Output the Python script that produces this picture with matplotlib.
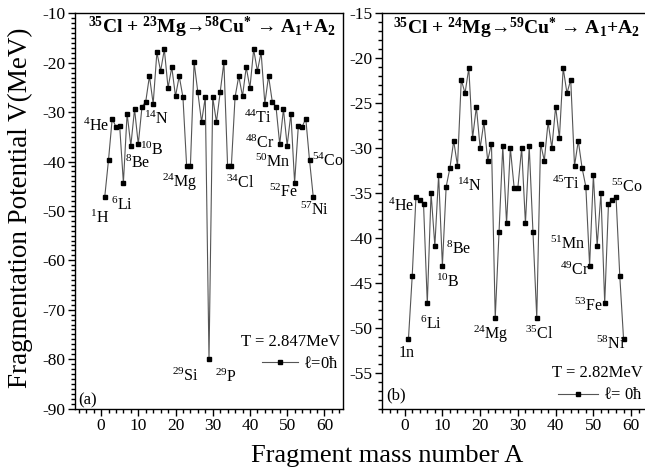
import matplotlib
matplotlib.use("Agg")
import matplotlib.pyplot as plt
from matplotlib.ticker import MultipleLocator
from matplotlib.lines import Line2D

plt.rcParams['font.family'] = ['Liberation Serif', 'DejaVu Serif']
plt.rcParams['mathtext.fontset'] = 'stix'
plt.rcParams['mathtext.default'] = 'regular'
plt.rcParams['axes.unicode_minus'] = False

# ---------------- data ----------------
mass_a = list(range(1, 58))
pot_a = [-47.1, -39.7, -31.3, -33.0, -32.8, -44.3, -30.3, -36.8, -29.4, -36.5,
         -28.9, -27.9, -22.7, -28.3, -17.9, -21.7, -17.3, -25.1, -20.9, -26.8,
         -22.7, -27.0, -41.0, -41.0, -19.9, -26.0, -32.0, -27.0, -80.0, -27.0,
         -32.0, -26.0, -19.9, -41.0, -41.0, -27.0, -22.7, -26.8, -20.9, -25.1,
         -17.3, -21.7, -17.9, -28.3, -22.7, -27.9, -28.9, -36.5, -29.4, -36.8,
         -30.3, -44.3, -32.8, -33.0, -31.3, -39.7, -47.1]

mass_b = list(range(1, 59))
pot_b = [-51.3, -44.3, -35.4, -35.8, -36.2, -47.3, -35.0, -40.9, -33.0, -43.1,
         -34.3, -32.2, -29.2, -32.0, -22.4, -23.9, -21.1, -28.9, -25.4, -30.0,
         -27.1, -31.4, -29.5, -48.9, -39.4, -29.8, -38.4, -30.0, -34.4, -34.4,
         -30.0, -38.4, -29.8, -39.4, -48.9, -29.5, -31.4, -27.1, -30.0, -25.4,
         -28.9, -21.1, -23.9, -22.4, -32.0, -29.2, -32.2, -34.3, -43.1, -33.0,
         -40.9, -35.0, -47.3, -36.2, -35.8, -35.4, -44.3, -51.3]

title_a = r'$^{35}$Cl + $^{23}$Mg→$^{58}$Cu$^{*}$ → A$_{1}$+A$_{2}$'
title_b = r'$^{35}$Cl + $^{24}$Mg→$^{59}$Cu$^{*}$ → A$_{1}$+A$_{2}$'

labels_a = [(r'$^{4}$He', -1.3, -32.9), (r'$^{1}$H', -0.3, -51.5), (r'$^{6}$Li', 5.6, -48.9),
            (r'$^{8}$Be', 9.7, -40.4), (r'$^{10}$B', 13.7, -37.7), (r'$^{14}$N', 14.8, -31.4),
            (r'$^{24}$Mg', 21.2, -44.2), (r'$^{34}$Cl', 37.4, -44.4), (r'$^{44}$Ti', 42.2, -31.2),
            (r'$^{48}$Cr', 42.7, -36.3), (r'$^{50}$Mn', 46.2, -40.2), (r'$^{52}$Fe', 48.9, -46.3),
            (r'$^{54}$Co', 61.0, -40.0), (r'$^{57}$Ni', 57.3, -49.9), (r'$^{29}$Si', 22.6, -83.5),
            (r'$^{29}$P', 33.6, -83.7)]

labels_b = [(r'$^{4}$He', -0.9, -36.5), ('1n', 0.4, -52.8), (r'$^{6}$Li', 7.0, -49.6),
            (r'$^{8}$Be', 14.4, -41.3), (r'$^{10}$B', 11.5, -45.0), (r'$^{14}$N', 17.1, -34.3),
            (r'$^{24}$Mg', 22.9, -50.8), (r'$^{35}$Cl', 35.7, -50.8), (r'$^{45}$Ti', 42.6, -34.0),
            (r'$^{51}$Mn', 43.3, -40.7), (r'$^{49}$Cr', 45.2, -43.6), (r'$^{53}$Fe', 48.6, -47.6),
            (r'$^{58}$Ni', 54.5, -51.9), (r'$^{55}$Co', 59.0, -34.4)]

# ---------------- figure ----------------
W, H = 645, 473
fig = plt.figure(figsize=(W / 100, H / 100), dpi=100)


def px_axes(l, r, t, b):
    return fig.add_axes([l / W, 1 - b / H, (r - l) / W, (b - t) / H])


ax_a = px_axes(75, 343, 13.3, 408.5)
ax_b = px_axes(382, 650, 13.3, 408.5)

line_kw = dict(color='#555555', lw=0.8, marker='s', ms=3.0,
               mfc='black', mec='black')


def style(ax, xlim, ylim, ymaj, ymin_step):
    ax.set_xlim(*xlim)
    ax.set_ylim(*ylim)
    ax.xaxis.set_major_locator(MultipleLocator(10))
    ax.xaxis.set_minor_locator(MultipleLocator(2))
    ax.yaxis.set_major_locator(MultipleLocator(ymaj))
    ax.yaxis.set_minor_locator(MultipleLocator(ymin_step))
    ax.tick_params(which='both', direction='out', top=False, right=False,
                   labelsize=12.5, width=1.0, color='black', pad=2)
    ax.tick_params(which='major', length=5)
    ax.tick_params(which='minor', length=3)
    for s in ax.spines.values():
        s.set_linewidth(1.0)
        s.set_color('black')


style(ax_a, (-7, 65), (-90, -10), 10, 1)
style(ax_b, (-6, 65), (-59, -15), 5, 1)

ax_a.plot(mass_a, pot_a, **line_kw)
ax_b.plot(mass_b, pot_b, **line_kw)

ax_a.text(-3.5, -12.8, title_a, fontsize=14, fontweight='bold', va='center', ha='left')
ax_b.text(-3.0, -16.7, title_b, fontsize=14, fontweight='bold', va='center', ha='left')

for txt, x, y in labels_a:
    ax_a.text(x, y, txt, fontsize=11.5, ha='center', va='center')
for txt, x, y in labels_b:
    ax_b.text(x, y, txt, fontsize=11.5, ha='center', va='center')

ax_a.text(64.2, -76.6, 'T = 2.847MeV', fontsize=12, ha='right', va='center')
ax_b.text(63.2, -55.0, 'T = 2.82MeV', fontsize=12, ha='right', va='center')

ax_a.text(-6.0, -88.3, '(a)', fontsize=12, ha='left', va='center')
ax_b.text(-5.0, -57.5, '(b)', fontsize=12, ha='left', va='center')

h = Line2D([], [], **line_kw)
ax_a.legend([h], [r'$\ell$=0$\hbar$'], loc='center right', bbox_to_anchor=(0.985, 0.112),
            frameon=False, fontsize=12, handlelength=2.2, handletextpad=0.3,
            borderpad=0, borderaxespad=0)
ax_b.legend([h], [r'$\ell$= 0$\hbar$'], loc='center right', bbox_to_anchor=(0.975, 0.033),
            frameon=False, fontsize=12, handlelength=2.4, handletextpad=0.3,
            borderpad=0, borderaxespad=0)

fig.text(20 / W, 1 - 208 / H, 'Fragmentation Potential V(MeV)', rotation=90,
         fontsize=19.5, ha='center', va='center')
fig.text(387 / W, 1 - 456 / H, 'Fragment mass number A', fontsize=19,
         ha='center', va='center')

fig.savefig('out.png', dpi=100)
